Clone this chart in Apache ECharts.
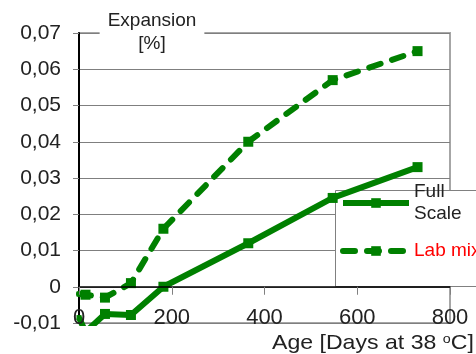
<!DOCTYPE html>
<html>
<head>
<meta charset="utf-8">
<script src="https://cdn.jsdelivr.net/npm/echarts@6/dist/echarts.min.js"></script>
<style>html,body{margin:0;padding:0;background:#fff;}#c{width:476px;height:354px;}</style>
</head>
<body>
<div id="c"></div>
<script>
// Data
var days = [0, 14, 56, 112, 182, 365, 547, 730];
var fullScale = [-0.0085, -0.0125, -0.0075, -0.0078, 0.0, 0.012, 0.0245, 0.033];
var labMix = [-0.002, -0.0022, -0.003, 0.001, 0.016, 0.040, 0.057, 0.065];
var seriesNames = ['Full Scale', 'Lab mix'];
var xTicks = [0, 200, 400, 600, 800];
var yTicks = [-0.01, 0, 0.01, 0.02, 0.03, 0.04, 0.05, 0.06, 0.07];

var FONT = 'Liberation Sans, Arial, sans-serif';
var GREEN = '#008000';

function pairs(xs, ys) { return xs.map(function (x, i) { return [x, ys[i]]; }); }
// marker at the very left edge is half hidden by the plot edge in the reference
function markerSize(val, params) { return params.dataIndex === 0 ? 5 : 10; }

var chart = echarts.init(document.getElementById('c'), null, {renderer: 'canvas'});
var gridTop = 33, gridBottomPx = 323;
// distance (px) from the bottom of the plot (-0.01) up to the zero line
var zeroOffset = (gridBottomPx - gridTop) * (0 - yTicks[0]) / (yTicks[yTicks.length - 1] - yTicks[0]);
chart.setOption({
  animation: false,
  backgroundColor: '#fff',
  grid: {left: 79, right: 26, top: gridTop, bottom: 354 - gridBottomPx, containLabel: false, outerBoundsMode: 'none',
         show: true, borderColor: '#a6a6a6', borderWidth: 2, backgroundColor: 'transparent'},
  xAxis: {
    type: 'value', min: xTicks[0], max: xTicks[xTicks.length - 1], interval: 200,
    position: 'bottom', offset: -zeroOffset, z: 5,
    axisLine: {onZero: false, lineStyle: {color: '#000', width: 1.5}},
    axisTick: {show: true, length: 8, lineStyle: {color: '#808080', width: 1}},
    axisLabel: {fontFamily: FONT, fontSize: 22, color: '#222', margin: 20, showMinLabel: true, showMaxLabel: true, hideOverlap: false},
    splitLine: {show: false}
  },
  yAxis: {
    type: 'value', min: yTicks[0], max: yTicks[yTicks.length - 1], interval: 0.01,
    axisLine: {show: true, onZero: false, lineStyle: {color: '#000', width: 2}},
    axisTick: {show: true, length: 6, lineStyle: {color: '#808080', width: 1}},
    axisLabel: {
      fontFamily: FONT, fontSize: 21, color: '#222', margin: 18, showMinLabel: true, showMaxLabel: true, hideOverlap: false,
      formatter: function (v) {
        if (Math.abs(v) < 1e-9) return '0';
        return v.toFixed(2).replace('.', ',');
      }
    },
    splitLine: {show: true, lineStyle: {color: '#7f7f7f', width: 1}}
  },
  legend: {
    orient: 'vertical', left: 340, top: 170, padding: 0, itemGap: 4,
    itemWidth: 66, itemHeight: 12,
    lineStyle: {width: 6},
    backgroundColor: 'transparent', borderWidth: 0,
    textStyle: {fontFamily: FONT, fontSize: 19, color: '#222', lineHeight: 22},
    formatter: function (name) { return name === 'Full Scale' ? 'Full\nScale' : name; },
    data: [
      {name: seriesNames[0], textStyle: {padding: [22, 0, 0, 0]}},
      {name: seriesNames[1], textStyle: {color: '#ff0000'}}
    ]
  },
  graphic: [
    {type: 'rect', z: 3, shape: {x: 335.5, y: 190.5, width: 150, height: 96},
     style: {fill: '#fff', stroke: '#808080', lineWidth: 1}},
    {type: 'text', z: 10, x: 152, y: 32,
     style: {text: 'Expansion\n[%]', fontFamily: FONT, fontSize: 19, lineHeight: 23,
             align: 'center', verticalAlign: 'middle', fill: '#222',
             backgroundColor: '#fff', padding: [0, 8]}},
    {type: 'text', z: 10, x: 272, y: 343, scaleX: 1.1,
     style: {text: 'Age [Days at 38 {s|o}C]', fontFamily: FONT, fontSize: 21,
             align: 'left', verticalAlign: 'middle', fill: '#222',
             rich: {s: {fontSize: 13, fontFamily: FONT, verticalAlign: 'top', fill: '#222'}}}}
  ],
  series: [
    {
      name: seriesNames[0], type: 'line', data: pairs(days, fullScale), clip: true,
      symbol: 'rect', symbolSize: markerSize, showSymbol: true,
      lineStyle: {color: GREEN, width: 6},
      itemStyle: {color: GREEN}
    },
    {
      name: seriesNames[1], type: 'line', data: pairs(days, labMix), clip: true,
      symbol: 'rect', symbolSize: markerSize, showSymbol: true,
      lineStyle: {color: GREEN, width: 6, type: [12, 12], cap: 'round'},
      itemStyle: {color: GREEN}
    }
  ]
});
</script>
</body>
</html>
